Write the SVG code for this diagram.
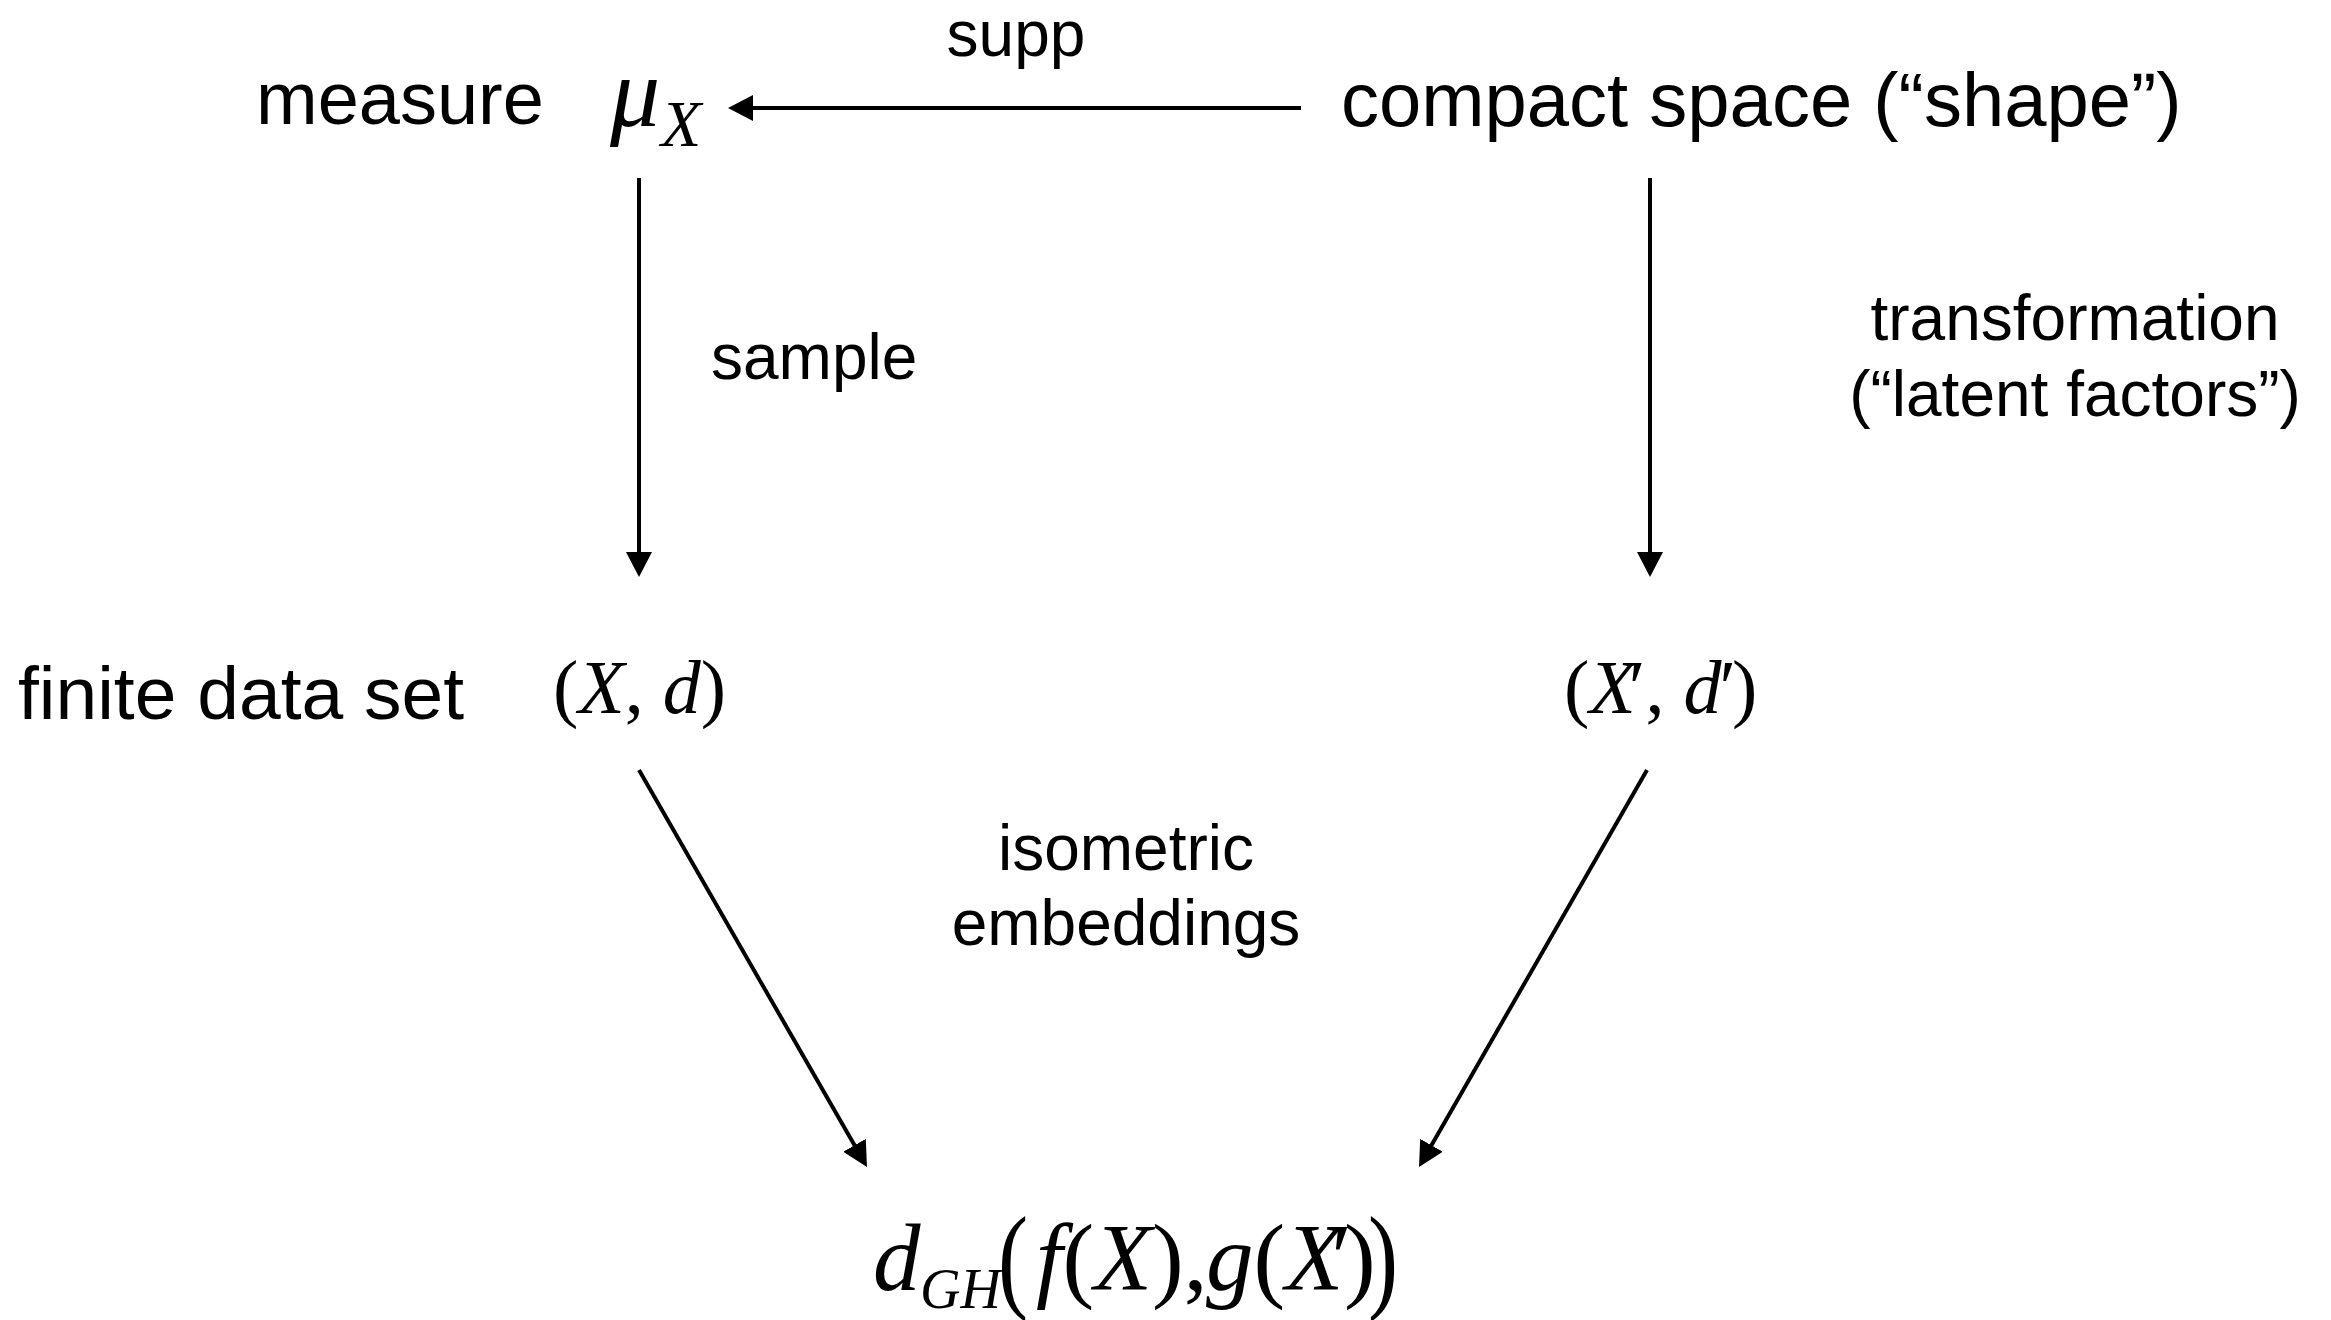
<svg xmlns="http://www.w3.org/2000/svg" width="2331" height="1320" viewBox="0 0 2331 1320">
<style>
.lbl{font-family:"Liberation Sans",Arial,sans-serif;fill:#000}
.big{font-size:75px}
.sm{font-size:64px}
.m{font-family:"Liberation Serif","Times New Roman",serif;fill:#000}
.n{font-size:76px}
.b{font-size:95px}
.i{font-style:italic}
.edge{stroke:#000;stroke-width:4;fill:none}
</style>
<defs>
<marker id="ah" markerWidth="26" markerHeight="26" refX="15" refY="13" orient="auto" markerUnits="userSpaceOnUse">
<path d="M0,0 L25,13 L0,26 z" fill="#000"/>
</marker>
</defs>
<rect width="2331" height="1320" fill="#fff"/>
<g id="connectors">
<line class="edge" x1="1301" y1="108" x2="738" y2="108" marker-end="url(#ah)"/>
<line class="edge" x1="639" y1="178" x2="639" y2="567" marker-end="url(#ah)"/>
<line class="edge" x1="1650" y1="178" x2="1650" y2="567" marker-end="url(#ah)"/>
<line class="edge" x1="639" y1="770" x2="862" y2="1158.3" marker-end="url(#ah)"/>
<line class="edge" x1="1647" y1="770" x2="1424" y2="1158.3" marker-end="url(#ah)"/>
<text class="lbl sm" x="1016" y="56" text-anchor="middle">supp</text>
<text class="lbl sm" x="711" y="379">sample</text>
<text class="lbl sm" x="2075" y="340" text-anchor="middle">transformation</text>
<text class="lbl sm" x="2075" y="416" text-anchor="middle">(“latent factors”)</text>
<text class="lbl sm" x="1126" y="870" text-anchor="middle">isometric</text>
<text class="lbl sm" x="1126" y="945" text-anchor="middle">embeddings</text>
</g>
<g id="measure">
<text class="lbl" style="font-size:74px" x="256" y="124">measure</text>
<text class="m i" x="610" y="126" style="font-size:100px">μ</text>
<text class="m i" x="661" y="146" style="font-size:66px">X</text>
</g>
<g id="compact">
<text class="lbl" style="font-size:76px" x="1341" y="126">compact space (“shape”)</text>
</g>
<g id="finite">
<text class="lbl big" x="18" y="719">finite data set</text>
<text class="m n" x="553" y="713">(<tspan class="i">X</tspan>, <tspan class="i">d</tspan>)</text>
</g>
<g id="xprime">
<text class="m n" x="1564" y="713">(<tspan class="i">X</tspan><tspan dx="-7">′</tspan>, <tspan class="i">d</tspan><tspan dx="-2">′</tspan><tspan dx="-4">)</tspan></text>
</g>
<g id="dgh">
<text class="m b i" x="873" y="1290">d</text>
<text class="m i" x="920" y="1308" style="font-size:56px">GH</text>
<text class="m" transform="translate(998,1297) scale(0.95,1.22)" x="0" y="0" style="font-size:95px">(</text>
<text class="m b" x="1036" y="1290"><tspan class="i">f</tspan>(<tspan class="i">X</tspan>),</text>
<text class="m b" x="1206" y="1290"><tspan class="i">g</tspan>(<tspan class="i">X</tspan><tspan dx="-12">′</tspan><tspan dx="-8">)</tspan></text>
<text class="m" transform="translate(1368,1297) scale(0.95,1.22)" x="0" y="0" style="font-size:95px">)</text>
</g>
</svg>
